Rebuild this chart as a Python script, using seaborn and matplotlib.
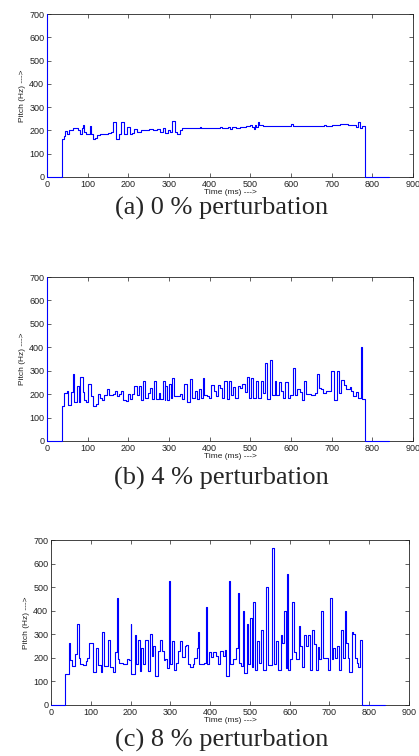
import numpy as np
import pandas as pd
import matplotlib
matplotlib.use("Agg")
import matplotlib.pyplot as plt
import seaborn as sns

# pitch tracks (time in ms, pitch in Hz), step-wise
time_0 = [0, 0.5, 37, 42, 45, 50, 55, 65, 70, 75, 80, 85, 88, 92, 97, 105, 108, 112, 118, 123,
          130, 150, 158, 163, 170, 178, 183, 190, 197, 203, 208, 215, 222, 230, 250, 260, 270,
          278, 285, 290, 297, 303, 307, 315, 320, 327, 333, 370, 375, 378, 420, 425, 430, 445,
          450, 455, 465, 475, 490, 500, 505, 508, 512, 515, 518, 522, 530, 600, 605, 680, 685,
          700, 720, 740, 760, 765, 770, 775, 782, 840]
pitch_0 = [700, 0, 165, 175, 198, 185, 200, 212, 210, 200, 185, 210, 225, 195, 185, 220, 185,
           165, 168, 180, 185, 190, 195, 235, 165, 185, 235, 185, 215, 185, 190, 205, 195, 200,
           205, 200, 205, 195, 210, 190, 200, 195, 240, 195, 185, 200, 210, 210, 215, 210, 210,
           215, 210, 215, 205, 215, 210, 215, 220, 225, 215, 205, 225, 215, 235, 225, 220, 228,
           220, 225, 220, 222, 228, 222, 215, 238, 210, 220, 0, 0]

time_4 = [0, 0.5, 37, 43, 49, 52, 59, 65, 67, 73, 78, 82, 88, 92, 96, 102, 108, 114, 120, 125,
          130, 135, 141, 147, 152, 162, 166, 171, 178, 182, 187, 194, 199, 203, 209, 215, 221,
          226, 231, 237, 242, 248, 253, 258, 264, 269, 275, 279, 285, 289, 291, 296, 301, 305,
          308, 313, 326, 332, 338, 344, 352, 357, 363, 369, 373, 379, 383, 387, 393, 399, 404,
          410, 416, 421, 426, 431, 436, 442, 447, 453, 457, 463, 469, 475, 480, 486, 491, 496,
          502, 506, 513, 518, 525, 531, 537, 540, 548, 554, 560, 564, 570, 575, 581, 586, 592,
          598, 605, 609, 614, 621, 627, 632, 637, 650, 658, 664, 668, 673, 678, 685, 699, 705,
          713, 718, 723, 730, 736, 744, 748, 752, 759, 765, 772, 775, 782, 840]
pitch_4 = [700, 0, 150, 205, 215, 155, 210, 285, 165, 235, 165, 275, 210, 175, 165, 245, 190,
           150, 160, 200, 185, 175, 195, 220, 195, 200, 215, 190, 200, 215, 175, 170, 200, 180,
           200, 235, 195, 235, 175, 255, 185, 205, 225, 180, 255, 180, 205, 180, 255, 175, 235,
           175, 245, 185, 270, 190, 200, 180, 245, 165, 265, 185, 215, 180, 220, 185, 270, 195,
           190, 185, 240, 215, 190, 240, 225, 185, 255, 180, 255, 195, 230, 185, 235, 225, 245,
           210, 275, 185, 270, 185, 255, 185, 255, 205, 335, 180, 345, 195, 255, 195, 250, 215,
           185, 250, 185, 195, 310, 195, 220, 210, 175, 255, 200, 195, 205, 285, 225, 220, 205,
           215, 300, 175, 300, 205, 260, 240, 220, 230, 215, 190, 210, 185, 400, 180, 0, 0]

time_8 = [0, 36, 44, 49, 54, 60, 66, 70, 73, 81, 88, 91, 95, 105, 113, 119, 125, 129, 132, 143,
          149, 156, 162, 165, 167, 169, 172, 180, 192, 196, 200, 202, 211, 214, 219, 223, 227,
          232, 237, 243, 248, 253, 257, 262, 268, 273, 278, 283, 287, 292, 296, 299, 304, 308,
          314, 320, 325, 330, 336, 340, 345, 350, 356, 360, 367, 369, 371, 385, 389, 392, 398,
          402, 407, 414, 420, 426, 432, 437, 441, 447, 450, 457, 465, 469, 473, 478, 482, 485,
          492, 496, 500, 505, 508, 512, 518, 524, 528, 533, 540, 545, 556, 560, 565, 570, 577,
          581, 585, 590, 593, 597, 602, 607, 611, 617, 623, 627, 632, 636, 640, 645, 650, 656,
          660, 665, 670, 674, 678, 685, 697, 702, 706, 710, 715, 720, 725, 730, 735, 739, 742,
          747, 750, 756, 760, 765, 770, 773, 777, 782, 840]
pitch_8 = [0, 130, 265, 190, 165, 215, 345, 200, 175, 170, 185, 200, 265, 140, 240, 170, 140,
           310, 165, 275, 160, 140, 225, 335, 455, 195, 180, 175, 195, 190, 345, 130, 295, 175,
           275, 145, 240, 175, 275, 145, 300, 210, 250, 125, 230, 275, 230, 190, 195, 155, 525,
           175, 270, 150, 180, 230, 270, 205, 250, 255, 175, 160, 175, 200, 240, 310, 175, 180,
           415, 175, 225, 205, 225, 210, 175, 230, 210, 235, 125, 525, 175, 195, 240, 475, 180,
           165, 400, 135, 345, 175, 370, 160, 435, 150, 270, 180, 320, 150, 500, 170, 665, 175,
           270, 150, 295, 265, 400, 155, 555, 150, 195, 435, 225, 195, 335, 250, 160, 295, 250,
           295, 150, 320, 260, 150, 245, 195, 400, 200, 150, 455, 195, 240, 200, 250, 150, 320,
           200, 400, 265, 200, 140, 310, 300, 200, 180, 160, 275, 0, 0]

captions = ["(a) 0 % perturbation", "(b) 4 % perturbation", "(c) 8 % perturbation"]
tracks = [(time_0, pitch_0), (time_4, pitch_4), (time_8, pitch_8)]

sns.set_style("ticks")
plt.rcParams["font.family"] = ["Liberation Sans", "DejaVu Sans"]

W, H = 419, 756
fig = plt.figure(figsize=(W / 100, H / 100), dpi=100)

# axes boxes in pixels: left, top, right, bottom
boxes = [(47, 14, 413, 177), (47, 277, 413, 441), (51, 540, 409, 705)]
caption_y = [208, 478, 740]

for (t, f), (l, tp, r, b), cap, cy in zip(tracks, boxes, captions, caption_y):
    ax = fig.add_axes([l / W, 1 - b / H, (r - l) / W, (b - tp) / H])
    df = pd.DataFrame({"time": t, "pitch": f})
    # unclipped so the trace stays visible where it runs along the spines
    sns.lineplot(data=df, x="time", y="pitch", ax=ax, estimator=None, sort=False,
                 drawstyle="steps-post", color="#0000ff", linewidth=0.8,
                 zorder=3, clip_on=False)
    ax.set_xlim(0, 900)
    ax.set_ylim(0, 700)
    ax.set_xticks(np.arange(0, 901, 100))
    ax.set_yticks(np.arange(0, 701, 100))
    ax.tick_params(direction="in", length=3, width=0.5, labelsize=6.5,
                   top=True, right=True, colors="#222222", pad=2)
    for s in ax.spines.values():
        s.set_linewidth(0.6)
        s.set_color("#222222")
    ax.set_xlabel("Time (ms) --->", fontsize=6, labelpad=0, color="#222222")
    ax.set_ylabel("Pitch (Hz) --->", fontsize=6, labelpad=2, color="#222222")
    fig.text(0.529, 1 - cy / H, cap, ha="center", va="center", fontsize=19,
             family=["Liberation Serif", "DejaVu Serif"])

fig.savefig("out.png", dpi=100)
